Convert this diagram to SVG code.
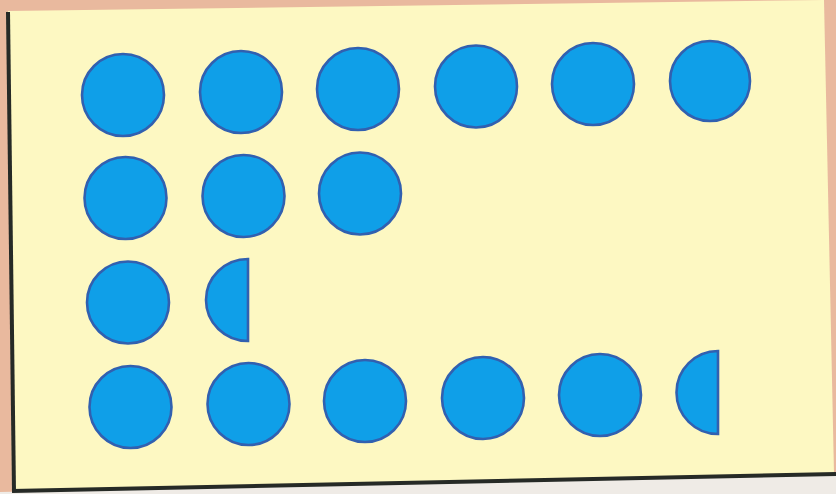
<svg xmlns="http://www.w3.org/2000/svg" width="836" height="494" viewBox="0 0 836 494">
  <style>
    .dot { fill: #0f9fe8; stroke: #3160b0; stroke-width: 2.6; }
    .edge { stroke: #262a26; fill: none; }
  </style>
  <rect x="0" y="0" width="836" height="494" fill="#e9b99e"/>
  <polygon points="8,11 824,0 834,474 12,492" fill="#fdf8c2"/>
  <polygon points="0,494 0,492 836,474 836,494" fill="#efebe6"/>
  <line class="edge" x1="8" y1="12" x2="14" y2="492" stroke-width="4"/>
  <line class="edge" x1="12" y1="491" x2="836" y2="474" stroke-width="4"/>
  <g id="row1">
    <circle class="dot" cx="123" cy="95" r="41"/>
    <circle class="dot" cx="241" cy="92" r="41"/>
    <circle class="dot" cx="358" cy="89" r="41"/>
    <circle class="dot" cx="476" cy="86.5" r="41"/>
    <circle class="dot" cx="593" cy="84" r="41"/>
    <circle class="dot" cx="710" cy="81" r="40"/>
  </g>
  <g id="row2">
    <circle class="dot" cx="125.5" cy="198" r="41"/>
    <circle class="dot" cx="243.5" cy="196" r="41"/>
    <circle class="dot" cx="360" cy="193.5" r="41"/>
  </g>
  <g id="row3">
    <circle class="dot" cx="128" cy="302.5" r="41"/>
    <path class="dot" d="M248,259 A42,41 0 0 0 248,341 Z"/>
  </g>
  <g id="row4">
    <circle class="dot" cx="130.5" cy="407" r="41"/>
    <circle class="dot" cx="248.5" cy="404" r="41"/>
    <circle class="dot" cx="365" cy="401" r="41"/>
    <circle class="dot" cx="483" cy="398" r="41"/>
    <circle class="dot" cx="600" cy="395" r="41"/>
    <path class="dot" d="M718,351 A41.5,41.5 0 0 0 718,434 Z"/>
  </g>
</svg>
